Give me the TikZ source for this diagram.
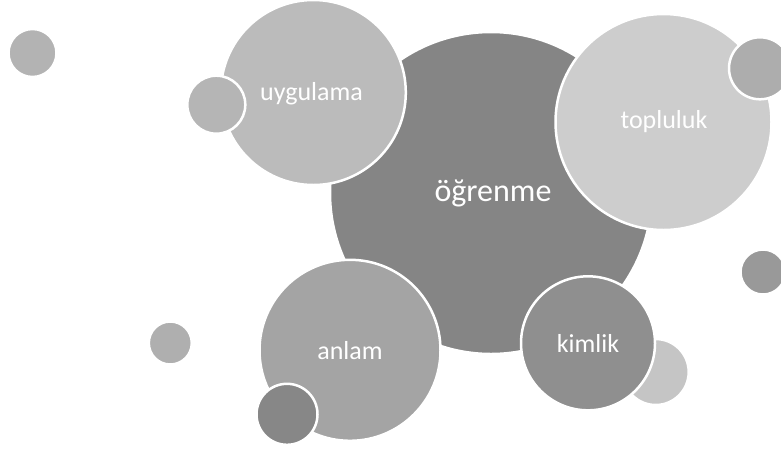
\documentclass[tikz,border=0pt]{standalone}
\usepackage{fontspec}
\setmainfont{Carlito}
\begin{document}
\begin{tikzpicture}[x=1pt,y=-1pt,
  bub/.style={circle,draw=white,line width=2.5pt,inner sep=0pt,outer sep=0pt,minimum size=#1},
  lab/.style={anchor=base,text=white,inner sep=0pt,font=\fontsize{26}{30}\selectfont},
  biglab/.style={anchor=base,text=white,inner sep=0pt,font=\fontsize{32}{36}\selectfont}]
\definecolor{cBig}{HTML}{858585}
\definecolor{cUyg}{HTML}{BBBBBB}
\definecolor{cUygS}{HTML}{B5B5B5}
\definecolor{cTop}{HTML}{CDCDCD}
\definecolor{cTopS}{HTML}{ADADAD}
\definecolor{cAnl}{HTML}{A4A4A4}
\definecolor{cAnlS}{HTML}{878787}
\definecolor{cKim}{HTML}{8F8F8F}
\definecolor{cKimS}{HTML}{C5C5C5}
\definecolor{cTL}{HTML}{B3B3B3}
\definecolor{cL}{HTML}{AFAFAF}
\definecolor{cR}{HTML}{999999}
\fill[white] (0,0) rectangle (781,451);
\useasboundingbox (0,0) rectangle (781,451);
% isolated small circles
\node[bub=48, fill=cTL] (tl) at (32.5,53) {};
\node[bub=43, fill=cL] (lc) at (170.3,343) {};
\node[bub=45, fill=cR] (rc) at (763,272) {};
% main circle
\node[bub=322, fill=cBig] (ogr) at (491,193) {};
% uygulama
\node[bub=185, fill=cUyg] (uyg) at (313.3,92.5) {};
\node[bub=58, fill=cUygS] (uygs) at (216.3,104.7) {};
% topluluk
\node[bub=216, fill=cTop] (top) at (663.5,122) {};
\node[bub=62, fill=cTopS] (tops) at (760,68.3) {};
% anlam
\node[bub=181, fill=cAnl] (anl) at (350,350.3) {};
\node[bub=61, fill=cAnlS] (anls) at (287,414.3) {};
% kimlik
\node[bub=66, fill=cKimS] (kims) at (655.7,372) {};
\node[bub=134, fill=cKim] (kim) at (588,343.3) {};
% labels
\node[biglab] (tOgr) at (493,201.7) {öğrenme};
\node[lab] (tUyg) at (311.5,100) {uygulama};
\node[lab] (tTop) at (664,128.3) {topluluk};
\node[lab] (tAnl) at (350,359.3) {anlam};
\node[lab] (tKim) at (588,352.7) {kimlik};
\end{tikzpicture}
\end{document}
